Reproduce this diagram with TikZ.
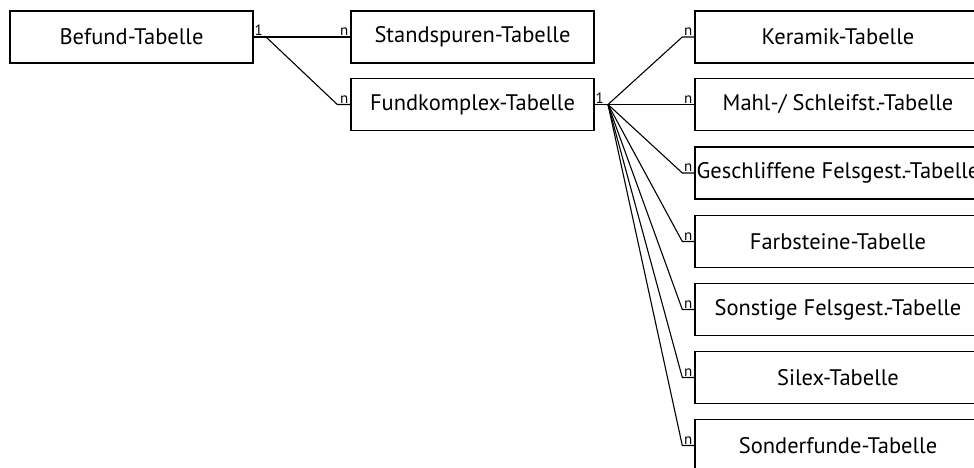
\documentclass[tikz,border=0pt]{standalone}
\usepackage{fontspec}
\setmainfont{PT Sans}
\begin{document}
\begin{tikzpicture}[x=1pt,y=-1pt,
  tbl/.style={draw=black,line width=1.4pt,rectangle,minimum height=52pt,inner sep=0pt,font=\fontsize{22.5}{26}\selectfont},
  lefttbl/.style={tbl,minimum width=243pt},
  righttbl/.style={tbl,minimum width=286pt},
  link/.style={draw=black,line width=1.1pt},
  card/.style={inner sep=0pt,font=\fontsize{15}{15}\selectfont,anchor=south}
]
\useasboundingbox (0,0) rectangle (974,468);
\clip (0,0) rectangle (974,468);

% left column
\node[lefttbl] (befund) at (131.5,37) {\makebox[0pt]{Befund-Tabelle}};
\node[lefttbl] (stand)  at (472.5,37) {\makebox[0pt]{Standspuren-Tabelle}};
\node[lefttbl] (fund)   at (472.5,104.5) {\makebox[0pt]{Fundkomplex-Tabelle}};

% right column
\node[righttbl] (ker)  at (838,37)    {\makebox[0pt]{Keramik-Tabelle}};
\node[righttbl] (mahl) at (838,104.5) {\makebox[0pt]{Mahl-/ Schleifst.-Tabelle}};
\node[righttbl] (ges)  at (838,173)   {\makebox[0pt]{Geschliffene Felsgest.-Tabelle}};
\node[righttbl] (farb) at (838,241.5) {\makebox[0pt]{Farbsteine-Tabelle}};
\node[righttbl] (sons) at (838,309.5) {\makebox[0pt]{Sonstige Felsgest.-Tabelle}};
\node[righttbl] (silx) at (838,377.5) {\makebox[0pt]{Silex-Tabelle}};
\node[righttbl] (sond) at (838,445.5) {\makebox[0pt]{Sonderfunde-Tabelle}};

% junction points
\coordinate (j1) at (266,37);
\coordinate (fan) at (608,104.5);

% Befund 1:n
\draw[link] (befund.east) -- (stand.west);
\draw[link] (j1) -- ([xshift=-13pt]fund.west) -- (fund.west);
\node[card] at ([xshift=5pt,yshift=1pt]befund.east) {1};
\node[card] at ([xshift=-6pt,yshift=1pt]stand.west) {n};
\node[card] at ([xshift=-6pt,yshift=1pt]fund.west) {n};

% Fundkomplex 1:n
\draw[link] (fund.east) -- (fan);
\node[card] at ([xshift=5pt,yshift=1pt]fund.east) {1};
\foreach \t in {ker,mahl,ges,farb,sons,silx,sond}{
  \draw[link] (fan) -- ([xshift=-12pt]\t.west) -- (\t.west);
  \node[card] at ([xshift=-6pt,yshift=1pt]\t.west) {n};
}
\end{tikzpicture}
\end{document}
